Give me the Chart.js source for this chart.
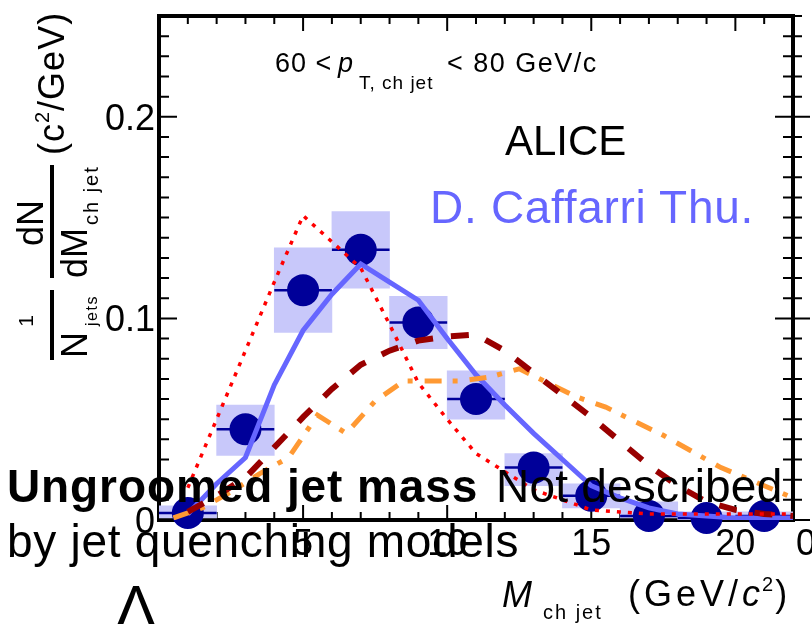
<!DOCTYPE html>
<html>
<head>
<meta charset="utf-8">
<script src="https://cdn.jsdelivr.net/npm/chart.js@4.4.1/dist/chart.umd.min.js"></script>
<style>
body{margin:0;background:#fff}
#wrap{position:relative;width:812px;height:624px;overflow:hidden;background:#fff}
#wrap canvas{position:absolute;left:0;top:0}
.t{position:absolute;font-family:"Liberation Sans",Arial,sans-serif;white-space:nowrap;color:#000;font-size:46px;line-height:46px}
</style>
</head>
<body>
<div id="wrap">
<canvas id="massChart" width="812" height="624"></canvas>
<div class="t" style="left:430px;top:184px;color:#6666ff;letter-spacing:0.7px">D. Caffarri Thu.</div>
<div class="t" style="left:7px;top:463px;font-weight:bold;letter-spacing:0.9px">Ungroomed jet mass</div>
<div class="t" style="left:496px;top:463px;letter-spacing:0.2px">Not described</div>
<div class="t" style="left:7px;top:518px;letter-spacing:0.7px">by jet quenching models</div>
<div class="t" style="left:116px;top:577px;font-size:60px;line-height:60px">Λ</div>
</div>
<script>
// ALICE data, 60 < pT,ch jet < 80 GeV/c
const binCenter = [1,3,5,7,9,11,13,15,17,19,21]
const binHalfWidth = [1,1,1,1,1,1,1,1,1,1,1]
const dataY = [0.0035,0.045,0.114,0.134,0.098,0.060,0.026,0.012,0.002,0.001,0.002]
const sysLow = [0.001,0.032,0.093,0.115,0.085,0.050,0.017,0.006,0.001,0.000,0.000]
const sysHigh = [0.007,0.057,0.135,0.153,0.111,0.074,0.033,0.018,0.009,0.004,0.004]

// model curves
const modelX = [1,2,3,4,5,6,7,8,9,10,11,12,13,14,15,16,17,18,19,20,21,22]
const blueModel = [0.003,0.018,0.031,0.067,0.094,0.112,0.127,0.118,0.109,0.090,0.072,0.057,0.043,0.030,0.017,0.011,0.006,0.003,0.002,0.001,0.001,0.001]
const redModel = [0.016,0.050,0.084,0.118,0.151,0.138,0.125,0.097,0.068,0.050,0.033,0.024,0.015,0.010,0.005,0.004,0.003,0.003,0.003,0.003,0.003,0.003]
const darkRedModel = [0.004,0.012,0.021,0.036,0.051,0.065,0.077,0.084,0.089,0.091,0.092,0.084,0.073,0.062,0.051,0.039,0.027,0.017,0.009,0.005,0.003,0.002]
const orangeX = [0.5,1.5,2.5,3.5,4.5,5.5,6.5,7.5,8.5,9.5,10.5,11.5,12.5,13.5,14.5,15.5,16.5,17.5,18.5,19.5,20.5,21.5,22]
const orangeModel = [0.001,0.006,0.014,0.023,0.031,0.052,0.043,0.059,0.069,0.069,0.069,0.071,0.075,0.068,0.061,0.056,0.049,0.042,0.034,0.026,0.020,0.014,0.011]

// axes
const xMin = 0, xMax = 22
const yMin = 0, yMax = 0.25
const xTickVals = [5,10,15,20]
const xTickLabels = ["5","10","15","20"]
const yTickVals = [0,0.1,0.2]
const yTickLabels = ["0","0.1","0.2"]

const F = '"Liberation Sans", Arial, sans-serif'

function put(c, s, x, y, font, align, sp) {
  c.font = font
  c.textAlign = align || "left"
  c.letterSpacing = (sp || 0) + "px"
  c.fillText(s, x, y)
  const w = c.measureText(s).width
  c.letterSpacing = "0px"
  return x + w
}

const framePlugin = {
  id: "frame",
  beforeDatasetsDraw(chart) {
    const c = chart.ctx, a = chart.chartArea
    const xs = chart.scales.x, ys = chart.scales.y
    c.save()
    c.strokeStyle = "#000"
    c.lineWidth = 2
    // x ticks every 1, major every 5
    for (let v = xMin; v <= xMax; v += 1) {
      const px = xs.getPixelForValue(v)
      const len = v % 5 === 0 ? 15 : 8
      c.beginPath()
      c.moveTo(px, a.bottom); c.lineTo(px, a.bottom - len)
      c.moveTo(px, a.top); c.lineTo(px, a.top + len)
      c.stroke()
    }
    // y ticks every 0.01, major every 0.1
    for (let k = 0; k <= 25; k++) {
      const py = ys.getPixelForValue(k / 100)
      const len = k % 10 === 0 ? 18 : 10
      c.beginPath()
      c.moveTo(a.left, py); c.lineTo(a.left + len, py)
      c.moveTo(a.right - len, py); c.lineTo(a.right + len - 1, py)
      c.stroke()
    }
    c.lineWidth = 4
    c.strokeRect(a.left, a.top, a.right - a.left, a.bottom - a.top)
    c.restore()
  },
  afterDatasetDraw(chart, args) {
    if (args.meta.type !== "bar") return
    const c = chart.ctx
    const xs = chart.scales.x, ys = chart.scales.y
    c.save()
    c.strokeStyle = "#000099"
    c.lineWidth = 2.5
    binCenter.forEach((x, i) => {
      const py = ys.getPixelForValue(dataY[i])
      c.beginPath()
      c.moveTo(xs.getPixelForValue(x - binHalfWidth[i]), py)
      c.lineTo(xs.getPixelForValue(x + binHalfWidth[i]), py)
      c.stroke()
    })
    c.restore()
  },
  afterDraw(chart) {
    const c = chart.ctx
    const xs = chart.scales.x, ys = chart.scales.y
    c.save()
    c.fillStyle = "#000"
    c.textBaseline = "alphabetic"
    // tick labels
    yTickVals.forEach((v, i) => put(c, yTickLabels[i], 155, ys.getPixelForValue(v) + 13, "36px " + F, "right"))
    xTickVals.forEach((v, i) => put(c, xTickLabels[i], xs.getPixelForValue(v), 555, "36px " + F, "center"))
    put(c, "0", 796, 555, "36px " + F)

    // x title
    put(c, "M", 502, 607, "italic 36px " + F)
    put(c, "ch jet", 543, 619, "20px " + F, "left", 2)
    let x = put(c, "(GeV/", 628, 606, "36px " + F, "left", 4)
    x = put(c, "c", x, 606, "italic 36px " + F, "left", 2)
    x = put(c, "2", x, 591, "20px " + F)
    put(c, ")", x + 2, 606, "36px " + F)

    // y title, rotated
    c.translate(52, 360)
    c.rotate(-Math.PI / 2)
    c.fillRect(0, -2, 70, 4)
    c.fillRect(82, -2, 113, 4)
    put(c, "1", 39, -19, "21px " + F, "center")
    let u = put(c, "N", 2, 35, "36px " + F)
    put(c, "jets", u + 6, 45, "16px " + F, "left", 1.5)
    put(c, "dN", 137, -9, "36px " + F, "center")
    put(c, "dM", 82, 35, "36px " + F)
    put(c, "ch jet", 135, 46, "20px " + F, "left", 2)
    u = put(c, "(c", 205, 12, "36px " + F, "left", 1)
    u = put(c, "2", u, -3, "20px " + F)
    put(c, "/GeV)", u + 1, 12, "36px " + F, "left", 1)
    c.setTransform(1, 0, 0, 1, 0, 0)

    // in-plot labels
    put(c, "60 <", 275, 72, "27px " + F, "left", 1)
    put(c, "p", 338, 72, "italic 27px " + F)
    put(c, "T, ch jet", 359, 89, "19px " + F, "left", 1)
    put(c, "< 80 GeV/c", 447, 72, "27px " + F, "left", 1.5)
    put(c, "ALICE", 505, 155, "42px " + F)
    c.restore()
  }
}

const ctx = document.getElementById("massChart")

new Chart(ctx, {
  type: "scatter",
  data: {
    datasets: [
      {
        type: "line",
        label: "red dotted",
        data: modelX.map((x, i) => ({x: x, y: redModel[i]})),
        borderColor: "#ff0000",
        borderWidth: 3.5,
        borderDash: [4, 7],
        pointRadius: 0,
        fill: false,
        order: 1
      },
      {
        type: "line",
        label: "dark red dashed",
        data: modelX.map((x, i) => ({x: x, y: darkRedModel[i]})),
        borderColor: "#990000",
        borderWidth: 6,
        borderDash: [18, 18],
        pointRadius: 0,
        fill: false,
        order: 2
      },
      {
        type: "line",
        label: "orange dash-dot",
        data: orangeX.map((x, i) => ({x: x, y: orangeModel[i]})),
        borderColor: "#ff9933",
        borderWidth: 5,
        borderDash: [17, 11, 5, 12],
        pointRadius: 0,
        fill: false,
        order: 3
      },
      {
        type: "line",
        label: "blue",
        data: modelX.map((x, i) => ({x: x, y: blueModel[i]})),
        borderColor: "#6666ff",
        borderWidth: 5,
        pointRadius: 0,
        fill: false,
        order: 4
      },
      {
        type: "scatter",
        label: "ALICE",
        data: binCenter.map((x, i) => ({x: x, y: dataY[i]})),
        backgroundColor: "#000099",
        borderWidth: 0,
        pointRadius: 16,
        clip: false,
        order: 5
      },
      {
        type: "bar",
        label: "syst",
        data: binCenter.map((x, i) => ({x: x, y: [sysLow[i], sysHigh[i]]})),
        backgroundColor: "#c8c8fa",
        borderWidth: 0,
        barPercentage: 1,
        categoryPercentage: 1,
        order: 6
      }
    ]
  },
  options: {
    responsive: false,
    animation: false,
    layout: {padding: {left: 159, right: 19, top: 14, bottom: 104}},
    plugins: {
      legend: {display: false},
      tooltip: {enabled: false}
    },
    scales: {
      x: {type: "linear", min: xMin, max: xMax, offset: false, display: false, ticks: {stepSize: 2}},
      y: {type: "linear", min: yMin, max: yMax, display: false}
    }
  },
  plugins: [framePlugin]
})
</script>
</body>
</html>
